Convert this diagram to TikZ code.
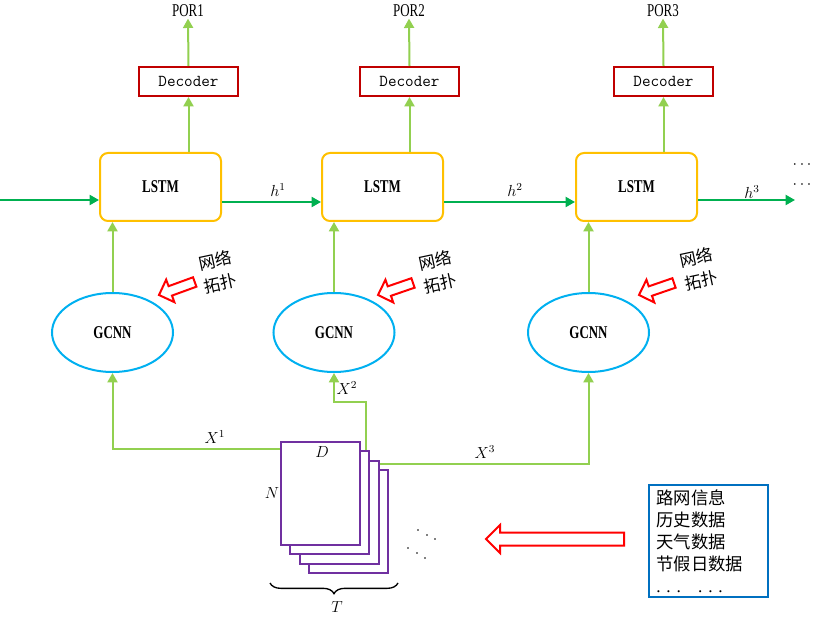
\documentclass[tikz,border=0pt]{standalone}
\usepackage{fontspec}
\setmainfont{Liberation Serif}
\newfontfamily\cjk{Noto Sans CJK SC}
\usepackage{graphicx}
\usetikzlibrary{arrows.meta,calc,shapes.geometric,decorations.pathreplacing}
\newcommand{\cond}[1]{\scalebox{0.72}[1]{#1}}
\newcommand{\blockarrow}[5]{\draw [blockred, shift={#1}, rotate=#2] (0,0) -- (#4,-#4) -- (#4,-#5) -- (#3,-#5) -- (#3,#5) -- (#4,#5) -- (#4,#4) -- cycle ;}

\begin{document}
\begin{tikzpicture}[x=0.75pt,y=0.75pt,yscale=-1,xscale=1,
  lstm/.style={draw={rgb, 255:red, 255; green, 192; blue, 0 }, line width=1.5pt, rounded corners=6pt, minimum width=90.75pt, minimum height=51pt, inner sep=0pt, font=\bfseries\fontsize{13.5}{16}\selectfont},
  decoder/.style={draw={rgb, 255:red, 192; green, 0; blue, 0 }, line width=1.5pt, minimum width=74.25pt, minimum height=21.75pt, inner sep=0pt, font=\ttfamily\fontsize{12.5}{14}\selectfont},
  gcnn/.style={ellipse, draw={rgb, 255:red, 0; green, 176; blue, 240 }, line width=1.5pt, minimum width=90.75pt, minimum height=59.25pt, inner sep=0pt, font=\bfseries\fontsize{13.5}{16}\selectfont},
  sheet/.style={draw={rgb, 255:red, 112; green, 48; blue, 160 }, line width=1.5pt, fill=white, minimum width=59.25pt, minimum height=77.25pt, inner sep=0pt},
  feed/.style={draw={rgb, 255:red, 146; green, 208; blue, 80 }, line width=1.5pt, -{Triangle[length=7pt,width=7.5pt]}},
  hid/.style={draw={rgb, 255:red, 0; green, 176; blue, 80 }, line width=1.5pt, -{Triangle[length=7pt,width=7.5pt]}},
  blockred/.style={draw={rgb, 255:red, 255; green, 0; blue, 0 }, line width=1.5pt, fill=white},
  topo/.style={font=\cjk\fontsize{12.5}{17.5}\selectfont, align=center, rotate=12, inner sep=0pt},
  por/.style={font=\fontsize{13.5}{16}\selectfont, inner sep=1pt},
  lab/.style={font=\fontsize{12}{14}\selectfont, inner sep=0pt},
  infobox/.style={draw={rgb, 255:red, 0; green, 112; blue, 192 }, line width=1.5pt, align=left, text width=78.25pt, inner xsep=5.5pt, minimum height=82.5pt, font=\cjk\fontsize{13}{16.5}\selectfont}
]
\useasboundingbox (0,0) rectangle (818,620);

%Shape: LSTM cells
\node [lstm] (lstm1) at (160.5,187) {\cond{LSTM}};
\node [lstm] (lstm2) at (382.5,187) {\cond{LSTM}};
\node [lstm] (lstm3) at (636.5,187) {\cond{LSTM}};

%Shape: Decoders
\node [decoder] (dec1) at (188.5,81.5) {Decoder};
\node [decoder] (dec2) at (409.5,81.5) {Decoder};
\node [decoder] (dec3) at (663.5,81.5) {Decoder};

% Text Node
\node [por] (por1) at (188,11) {\cond{POR1}};
\node [por] (por2) at (409,11) {\cond{POR2}};
\node [por] (por3) at (663,11) {\cond{POR3}};

%Shape: Ellipse
\node [gcnn] (gcnn1) at (112.5,332.5) {\cond{GCNN}};
\node [gcnn] (gcnn2) at (334,332.5) {\cond{GCNN}};
\node [gcnn] (gcnn3) at (588.5,332.5) {\cond{GCNN}};

%Shape: stacked input sheets
\node [sheet] (s3) at (348.4,521.4) {};
\node [sheet] (s2) at (339.1,512.1) {};
\node [sheet] (s1) at (329.8,502.8) {};
\node [sheet] (s0) at (320.5,493.5) {};

%Straight Lines: hidden state
\coordinate (in) at (0,200);
\coordinate (hend) at (795,200);
\draw [hid] (in) -- (in -| lstm1.west) ;
\draw [hid] ($(lstm1.east)+(0,15)$) -- ($(lstm2.west)+(0,15)$) ;
\draw [hid] ($(lstm2.east)+(0,15)$) -- ($(lstm3.west)+(0,15)$) ;
\draw [hid] (hend -| lstm3.east) -- (hend) ;

%Straight Lines: upward feeds
\draw [feed] (dec1.north) -- (por1.south) ;
\draw [feed] (dec2.north) -- (por2.south) ;
\draw [feed] (dec3.north) -- (por3.south) ;
\draw [feed] (dec1.south |- lstm1.north) -- (dec1.south) ;
\draw [feed] (dec2.south |- lstm2.north) -- (dec2.south) ;
\draw [feed] (dec3.south |- lstm3.north) -- (dec3.south) ;
\draw [feed] (gcnn1.north) -- (gcnn1.north |- lstm1.south) ;
\draw [feed] (gcnn2.north) -- (gcnn2.north |- lstm2.south) ;
\draw [feed] (gcnn3.north) -- (gcnn3.north |- lstm3.south) ;

%Straight Lines: inputs X
\draw [feed] ($(s0.north west)+(0,8)$) -| (gcnn1.south) ;
\draw [feed] ($(s1.north east)+(-4,0)$) |- ($(gcnn2.south)+(0,29)$) -- (gcnn2.south) ;
\draw [feed] ($(s2.north east)+(0,4)$) -| (gcnn3.south) ;

%Brace
\draw [decorate, decoration={brace, amplitude=8pt}, line width=1pt] (398,583) -- (270,583) ;

%Dots
\fill (418,530) circle (0.9) ; \fill (427,535) circle (0.9) ; \fill (435,539) circle (0.9) ;
\fill (408,548) circle (0.9) ; \fill (417,553) circle (0.9) ; \fill (425,558) circle (0.9) ;

%Shape: hollow arrows
\blockarrow{(159,295)}{-20}{38}{12}{5}
\blockarrow{(378,295)}{-19}{37}{12}{5}
\blockarrow{(639,295)}{-19}{37}{12}{5}
\blockarrow{(486,539)}{0}{138}{14}{6.5}

% Text Node
\node [lab] (h1) at (278,190) {$h^{1}$};
\node [lab] (h2) at (515,190) {$h^{2}$};
\node [lab] (h3) at (752,192) {$h^{3}$};
\node [lab] (more1) at (802,165) {$\cdots$};
\node [lab] (more2) at (802,185) {$\cdots$};
\node [lab] (x1) at (215,437) {$X^{1}$};
\node [lab] (x2) at (347,388) {$X^{2}$};
\node [lab] (x3) at (485,452) {$X^{3}$};
\node [lab] (dlab) at (322,452) {$D$};
\node [lab] (nlab) at (272,493) {$N$};
\node [lab] (tlab) at (337,607) {$T$};
\node [topo] (topo1) at (218,272) {网络\\拓扑};
\node [topo] (topo2) at (438,272) {网络\\拓扑};
\node [topo] (topo3) at (699,269) {网络\\拓扑};
\node [infobox] (info) at (708.5,541) {路网信息\\历史数据\\天气数据\\节假日数据\\{\rmfamily .\ .\ .\ \ \ .\ .\ .}};

\end{tikzpicture}
\end{document}
